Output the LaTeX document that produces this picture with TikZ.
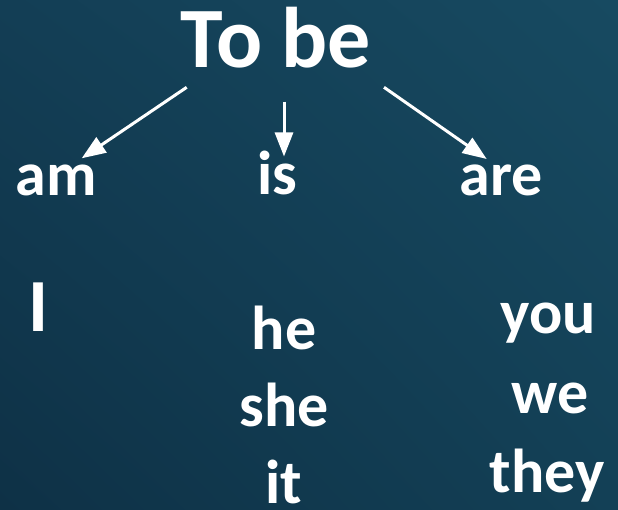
\documentclass[tikz,border=0pt]{standalone}
\usepackage{fontspec}
\setmainfont{Carlito}
\usetikzlibrary{arrows.meta,shadings}
\definecolor{bgUL}{HTML}{133E55}
\definecolor{bgUR}{HTML}{174A61}
\definecolor{bgLL}{HTML}{0E3146}
\definecolor{bgLR}{HTML}{134056}
\tikzset{
  word/.style={text=white, inner sep=0pt, anchor=base, font=\bfseries\fontsize{62}{62}\selectfont},
  title/.style={word, font=\bfseries\fontsize{86}{86}\selectfont},
  bigI/.style={word, font=\bfseries\fontsize{75}{75}\selectfont},
  arr/.style={draw=white, line width=3pt, -{Triangle[length=24pt,width=18pt]}}
}
\begin{document}
\begin{tikzpicture}[x=1pt,y=-1pt]
\shade[upper left=bgUL, upper right=bgUR, lower left=bgLL, lower right=bgLR] (0,0) rectangle (618,510);
\useasboundingbox (0,0) rectangle (618,510);
\node[title] (tobe) at (276,68) {To be};
\node[word] (am) at (56,196) {am};
\node[word] (is) at (277,195) {is};
\node[word] (are) at (501,196) {are};
\node[bigI] (I) at (38.5,331) {I};
\node[word] (he) at (284,349) {he};
\node[word] (she) at (284,426) {she};
\node[word] (it) at (284,503) {it};
\node[word] (you) at (548,334) {you};
\node[word] (we) at (550,413) {we};
\node[word] (they) at (547,492) {they};
\coordinate (s1) at (186.7,87.3);
\coordinate (e1) at (81.7,158.3);
\coordinate (s2) at (284,101.7);
\coordinate (e2) at (284,156.5);
\coordinate (s3) at (384,87.3);
\coordinate (e3) at (486.7,159);
\draw[arr] (s1) -- (e1);
\draw[arr] (s2) -- (e2);
\draw[arr] (s3) -- (e3);
\end{tikzpicture}
\end{document}
